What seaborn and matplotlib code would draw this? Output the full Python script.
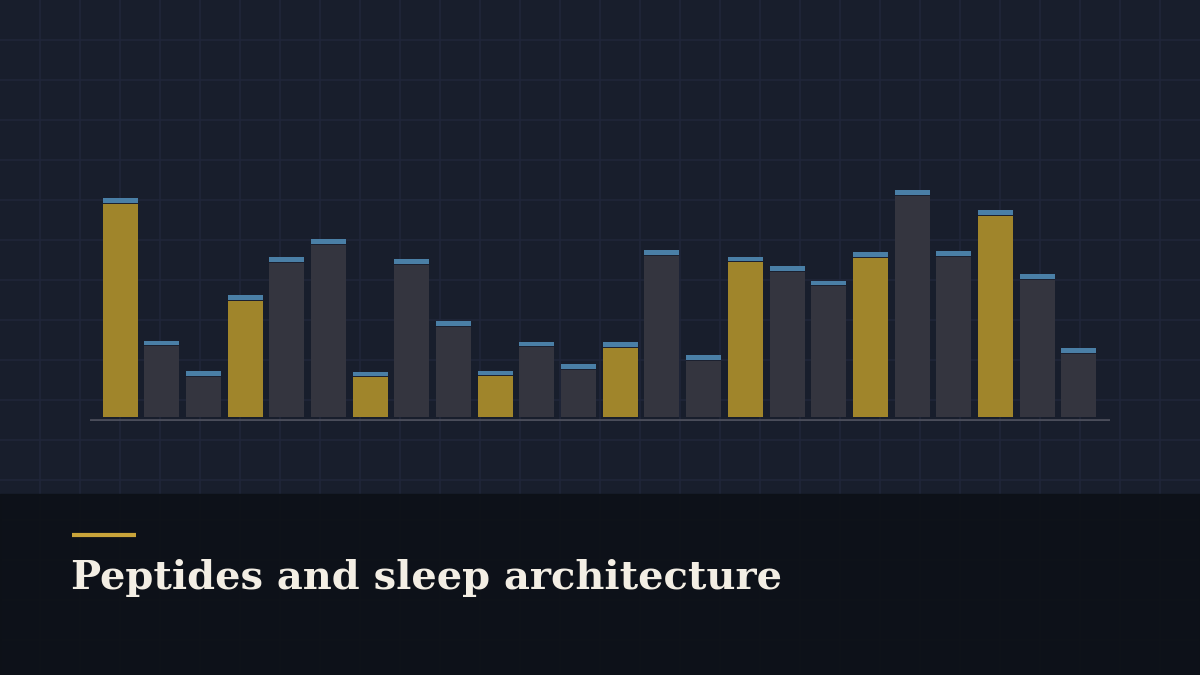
import numpy as np
import pandas as pd
import matplotlib.pyplot as plt
from matplotlib.patches import Rectangle
import seaborn as sns

# one bar per recording hour; every third hour is a dosing hour
hours = [f"H{i:02d}" for i in range(1, 25)]
totals = [218.7, 76.3, 46.0, 122.0, 159.7, 177.7, 45.3, 158.0, 96.0, 46.3, 75.3, 52.7,
          74.7, 166.7, 62.0, 160.3, 151.0, 136.3, 164.7, 227.0, 166.0, 207.0, 142.7, 69.0]
dosed = [i % 3 == 0 for i in range(24)]
cap = 4.5

bg = "#181e2c"
panel = "#0d1118"
gold = "#a0852b"
grey = "#34353f"
blue = "#4a7fa6"

df = pd.DataFrame({"hour": hours, "total": totals, "dosed": dosed})
df["body"] = df["total"] - cap - 1.0
df["sep"] = df["total"] - cap

sns.set_theme(style="dark")
W, H = 1200, 675
fig = plt.figure(figsize=(12, 6.75), dpi=100)
fig.patch.set_facecolor(bg)

# background grid
gax = fig.add_axes([0, 0, 1, 1])
gax.set_xlim(0, W)
gax.set_ylim(H, 0)
gax.set_facecolor(bg)
for x in range(40, W, 40):
    gax.axvline(x, color="#20263a", lw=1.1, zorder=0)
for y in range(40, H, 40):
    gax.axhline(y, color="#20263a", lw=1.1, zorder=0)
gax.add_patch(Rectangle((0, 494), W, H - 494, color=panel, alpha=0.94, zorder=1))
gax.plot([72, 136], [534.5, 534.5], color="#c9a43a", lw=3, solid_capstyle="butt", zorder=2)
gax.text(71, 589, "Peptides and sleep architecture", color="#f3eee4",
         fontsize=28.8, fontweight="bold", family=["DejaVu Serif"],
         va="baseline", zorder=2)
gax.axis("off")

# bars
ax = fig.add_axes([90 / W, (H - 421) / H, 1020 / W, 271 / H])
ax.patch.set_alpha(0)
pal = {h: (gold if d else grey) for h, d in zip(hours, dosed)}
sns.barplot(data=df, x="hour", y="total", color=blue, width=0.84, ax=ax,
            saturation=1, linewidth=0)
sns.barplot(data=df, x="hour", y="sep", color="#1c2130", width=0.84, ax=ax,
            saturation=1, linewidth=0)
sns.barplot(data=df, x="hour", y="body", hue="hour", palette=pal, legend=False,
            width=0.84, ax=ax, saturation=1, linewidth=0)
ax.set_xlim(-0.725, 23.75)
ax.set_ylim(-4, 267)
ax.axhline(-2.5, color="#4a4d5a", lw=2)
ax.set_xlabel("")
ax.set_ylabel("")
ax.set_xticks([])
ax.set_yticks([])
ax.grid(False)
for s in ax.spines.values():
    s.set_visible(False)

fig.savefig("out.png", dpi=100, facecolor=bg)
